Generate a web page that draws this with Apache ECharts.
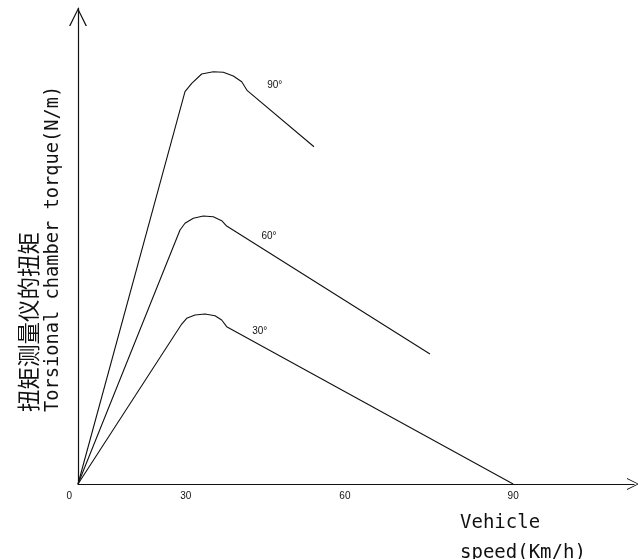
<!DOCTYPE html>
<html>
<head>
<meta charset="utf-8">
<script src="https://cdn.jsdelivr.net/npm/echarts@6/dist/echarts.min.js"></script>
<style>
html,body{margin:0;padding:0;background:#fff;}
#chart{width:638px;height:559px;}
</style>
</head>
<body>
<div id="chart"></div>
<script>
// ---- data (x: vehicle speed on the drawn linear scale, y: torque, arbitrary units) ----
var curve90 = [[0,0],[22.13,82.42],[23.52,84.18],[25.58,86.13],[27.98,86.62],[30.05,86.49],[32.12,85.71],[33.86,84.52],[35.02,82.63],[48.81,70.86]];
var curve60 = [[0,0],[21.1,53.36],[22.13,54.77],[23.85,55.82],[25.92,56.30],[27.98,56.16],[29.72,55.31],[30.75,54.20],[72.80,27.31]];
var curve30 = [[0,0],[21.45,33.61],[22.48,34.81],[24.2,35.50],[26.27,35.71],[28.34,35.36],[29.72,34.45],[30.75,33.05],[90,0]];
var curveNames = ['90°','60°','30°'];
var curveLabelAt = [[40.7,83.8],[39.5,52.0],[37.6,32.0]];
var tickLabels = ['0','30','60','90'];
var tickValues = [0, 22.3, 55.2, 90];
var xName = 'Vehicle\nspeed(Km/h)';
var yNameCn = '扭矩测量仪的扭矩';
var yNameEn = 'Torsional chamber torque(N/m)';

var chevron = 'path://M50 0 L100 100 L92 100 L50 14 L8 100 L0 100 Z';
var chart = echarts.init(document.getElementById('chart'), null, {renderer:'canvas'});

function mkSeries(name, data, idx){
  return {
    type:'line', name:name, data:data, showSymbol:false, symbol:'none', smooth:false,
    lineStyle:{color:'#111', width:1.1},
    silent:true, animation:false,
    markPoint:{
      symbol:'circle', symbolSize:0, silent:true,
      label:{show:true, position:'inside', color:'#111', fontSize:10, fontFamily:'Liberation Sans, Arial, sans-serif', formatter:name},
      data:[{coord:curveLabelAt[idx]}]
    }
  };
}

var option = {
  animation:false,
  backgroundColor:'#fff',
  grid:{left:78, top:8, right:4, bottom:75, containLabel:false},
  xAxis:{
    type:'value', min:0, max:115,
    splitLine:{show:false},
    axisTick:{show:false},
    axisLine:{show:true, lineStyle:{color:'#111', width:1.2}, symbol:['none', chevron], symbolSize:[20,12], symbolOffset:[0,-1]},
    axisLabel:{
      show:true, customValues:tickValues, margin:7, color:'#111', fontSize:10,
      fontFamily:'Liberation Sans, Arial, sans-serif',
      alignMinLabel:'right',
      formatter:function(v){
        var best=0; for(var i=0;i<tickValues.length;i++){ if(Math.abs(tickValues[i]-v)<Math.abs(tickValues[best]-v)) best=i; }
        return best===0 ? '{z|'+tickLabels[0]+'}' : tickLabels[best];
      },
      rich:{z:{padding:[0,6,0,0], fontSize:10, color:'#111', fontFamily:'Liberation Sans, Arial, sans-serif'}}
    }
  },
  yAxis:{
    type:'value', min:0, max:100,
    splitLine:{show:false},
    axisTick:{show:false},
    axisLabel:{show:false},
    axisLine:{show:true, lineStyle:{color:'#111', width:1.2}, symbol:['none', chevron], symbolSize:[21,18], symbolOffset:[0,-9]}
  },
  graphic:[
    {
      type:'text', x:460, y:508, silent:true,
      style:{
        text:xName, fill:'#111', font:'19px "DejaVu Sans Mono", monospace',
        lineHeight:30, align:'left', verticalAlign:'top'
      }
    },
    {
      type:'text', x:40, y:412, rotation:Math.PI/2, silent:true,
      style:{
        text:'{cn|'+yNameCn+'}\n{en|'+yNameEn+'}',
        align:'left', verticalAlign:'middle',
        rich:{
          cn:{font:'22.5px "Noto Sans CJK SC", sans-serif', fill:'#111', lineHeight:27, align:'left'},
          en:{font:'18.7px "DejaVu Sans Mono", monospace', fill:'#111', lineHeight:24, align:'left'}
        }
      }
    }
  ],
  series:[
    mkSeries(curveNames[0], curve90, 0),
    mkSeries(curveNames[1], curve60, 1),
    mkSeries(curveNames[2], curve30, 2)
  ]
};
chart.setOption(option);
</script>
</body>
</html>
